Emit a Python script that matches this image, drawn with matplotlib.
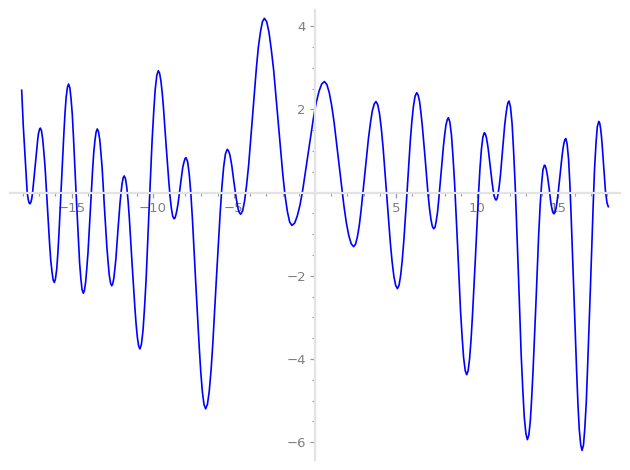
"""
Single-curve plot with axes crossing at the origin (Sage-like look).
"""

import matplotlib

matplotlib.use("Agg")
import matplotlib.pyplot as plt  # noqa: E402
from matplotlib.ticker import MultipleLocator, FuncFormatter  # noqa: E402

LINE = "#0000ff"
AXIS = "#e3e3e3"
TICK = "#9a9a9a"
LABEL = "#7f7f7f"

# curve samples, one row per swing (x then y)
x_vals = [
    -18.08, -17.98, -17.86, -17.74, -17.68, -17.62, -17.57,
    -17.52, -17.46, -17.41, -17.36, -17.25, -17.14, -17.09, -17.04, -16.98, -16.93,
    -16.86, -16.79, -16.72, -16.64, -16.50, -16.36, -16.29, -16.21, -16.14, -16.07,
    -16.00, -15.92, -15.85, -15.78, -15.63, -15.48, -15.41, -15.34, -15.26, -15.19,
    -15.11, -15.04, -14.96, -14.89, -14.74, -14.58, -14.51, -14.43, -14.36, -14.28,
    -14.21, -14.14, -14.07, -13.99, -13.85, -13.71, -13.64, -13.56, -13.49, -13.42,
    -13.35, -13.27, -13.20, -13.12, -12.98, -12.83, -12.75, -12.68, -12.60, -12.53,
    -12.47, -12.40, -12.34, -12.27, -12.15, -12.02, -11.95, -11.89, -11.82, -11.76,
    -11.68, -11.60, -11.52, -11.44, -11.28, -11.11, -11.03, -10.95, -10.87, -10.79,
    -10.70, -10.60, -10.51, -10.41, -10.23, -10.04, -9.94, -9.85, -9.75, -9.66,
    -9.58, -9.50, -9.42, -9.34, -9.18, -9.01, -8.93, -8.85, -8.77, -8.69,
    -8.63, -8.57, -8.51, -8.44, -8.32, -8.20, -8.14, -8.07, -8.01, -7.95,
    -7.85, -7.75, -7.65, -7.55, -7.35, -7.14, -7.04, -6.94, -6.84, -6.74,
    -6.63, -6.52, -6.41, -6.30, -6.08, -5.85, -5.74, -5.63, -5.52, -5.41,
    -5.34, -5.27, -5.20, -5.13, -5.00, -4.86, -4.79, -4.72, -4.65, -4.58,
    -4.46, -4.34, -4.22, -4.09, -3.85, -3.61, -3.49, -3.36, -3.24, -3.12,
    -2.98, -2.84, -2.70, -2.55, -2.27, -1.99, -1.85, -1.70, -1.56, -1.42,
    -1.25, -1.09, -0.92, -0.75, -0.42, -0.09, 0.08, 0.25, 0.41, 0.58,
    0.73, 0.88, 1.03, 1.18, 1.48, 1.78, 1.93, 2.08, 2.23, 2.38,
    2.50, 2.61, 2.73, 2.84, 3.07, 3.30, 3.42, 3.53, 3.65, 3.76,
    3.87, 3.98, 4.09, 4.20, 4.42, 4.64, 4.75, 4.86, 4.97, 5.08,
    5.18, 5.28, 5.38, 5.48, 5.68, 5.87, 5.97, 6.07, 6.17, 6.27,
    6.36, 6.45, 6.53, 6.62, 6.80, 6.97, 7.06, 7.15, 7.23, 7.32,
    7.40, 7.47, 7.55, 7.62, 7.77, 7.92, 8.00, 8.07, 8.15, 8.22,
    8.31, 8.41, 8.50, 8.60, 8.79, 8.97, 9.07, 9.16, 9.26, 9.35,
    9.44, 9.53, 9.62, 9.71, 9.90, 10.08, 10.17, 10.26, 10.35, 10.44,
    10.50, 10.56, 10.62, 10.68, 10.80, 10.92, 10.98, 11.04, 11.10, 11.16,
    11.23, 11.29, 11.36, 11.43, 11.56, 11.69, 11.76, 11.83, 11.89, 11.96,
    12.05, 12.15, 12.24, 12.34, 12.53, 12.71, 12.81, 12.90, 13.00, 13.09,
    13.18, 13.27, 13.35, 13.44, 13.62, 13.79, 13.88, 13.97, 14.05, 14.14,
    14.19, 14.24, 14.29, 14.34, 14.44, 14.53, 14.58, 14.63, 14.68, 14.73,
    14.79, 14.85, 14.91, 14.97, 15.10, 15.22, 15.28, 15.34, 15.40, 15.46,
    15.54, 15.63, 15.71, 15.79, 15.96, 16.13, 16.21, 16.29, 16.38, 16.46,
    16.55, 16.63, 16.72, 16.80, 16.98, 17.15, 17.23, 17.32, 17.40, 17.49,
    17.55, 17.60, 17.65, 17.70, 17.80, 17.90, 18.00, 18.08,
]
y_vals = [
    2.46, 1.59, 0.79, 0.00, -0.16, -0.25, -0.27,
    -0.24, -0.15, 0.00, 0.19, 0.64, 1.10, 1.28, 1.43, 1.52, 1.55,
    1.49, 1.30, 1.01, 0.62, -0.31, -1.23, -1.62, -1.91, -2.10, -2.16,
    -2.08, -1.84, -1.46, -0.97, 0.23, 1.42, 1.91, 2.29, 2.53, 2.61,
    2.52, 2.27, 1.88, 1.35, 0.10, -1.16, -1.69, -2.08, -2.33, -2.42,
    -2.35, -2.16, -1.84, -1.43, -0.45, 0.54, 0.95, 1.27, 1.46, 1.53,
    1.47, 1.28, 0.98, 0.59, -0.36, -1.30, -1.69, -1.99, -2.18, -2.24,
    -2.20, -2.06, -1.85, -1.58, -0.92, -0.26, 0.02, 0.22, 0.36, 0.40,
    0.33, 0.12, -0.21, -0.64, -1.68, -2.72, -3.15, -3.48, -3.69, -3.76,
    -3.65, -3.31, -2.78, -2.09, -0.42, 1.26, 1.95, 2.48, 2.82, 2.93,
    2.87, 2.69, 2.41, 2.04, 1.15, 0.26, -0.11, -0.39, -0.57, -0.63,
    -0.61, -0.53, -0.42, -0.26, 0.11, 0.47, 0.63, 0.74, 0.82, 0.84,
    0.74, 0.44, -0.04, -0.67, -2.18, -3.69, -4.32, -4.80, -5.10, -5.20,
    -5.09, -4.78, -4.29, -3.64, -2.08, -0.52, 0.13, 0.62, 0.93, 1.04,
    1.01, 0.94, 0.81, 0.65, 0.26, -0.13, -0.29, -0.42, -0.49, -0.52,
    -0.44, -0.20, 0.17, 0.66, 1.84, 3.01, 3.50, 3.87, 4.11, 4.19,
    4.11, 3.86, 3.46, 2.95, 1.70, 0.46, -0.06, -0.46, -0.71, -0.79,
    -0.73, -0.56, -0.29, 0.08, 0.94, 1.81, 2.17, 2.44, 2.61, 2.67,
    2.60, 2.40, 2.09, 1.68, 0.69, -0.31, -0.72, -1.03, -1.23, -1.30,
    -1.24, -1.07, -0.79, -0.43, 0.45, 1.32, 1.68, 1.96, 2.13, 2.19,
    2.11, 1.89, 1.53, 1.07, -0.06, -1.19, -1.65, -2.01, -2.23, -2.31,
    -2.23, -1.99, -1.62, -1.13, 0.05, 1.22, 1.71, 2.08, 2.32, 2.40,
    2.34, 2.18, 1.92, 1.58, 0.77, -0.05, -0.39, -0.65, -0.81, -0.87,
    -0.83, -0.69, -0.48, -0.20, 0.47, 1.13, 1.41, 1.62, 1.75, 1.80,
    1.70, 1.39, 0.90, 0.26, -1.29, -2.84, -3.48, -3.97, -4.28, -4.38,
    -4.28, -3.99, -3.53, -2.93, -1.47, -0.02, 0.59, 1.05, 1.34, 1.44,
    1.41, 1.33, 1.20, 1.04, 0.63, 0.23, 0.06, -0.07, -0.15, -0.18,
    -0.14, -0.02, 0.17, 0.42, 1.01, 1.61, 1.85, 2.04, 2.16, 2.20,
    2.06, 1.65, 1.01, 0.17, -1.87, -3.91, -4.75, -5.40, -5.80, -5.94,
    -5.83, -5.50, -4.98, -4.29, -2.64, -0.99, -0.30, 0.22, 0.55, 0.66,
    0.64, 0.58, 0.49, 0.37, 0.08, -0.22, -0.34, -0.43, -0.49, -0.51,
    -0.48, -0.39, -0.25, -0.06, 0.40, 0.85, 1.04, 1.18, 1.27, 1.30,
    1.17, 0.80, 0.21, -0.58, -2.45, -4.33, -5.11, -5.70, -6.07, -6.20,
    -6.07, -5.67, -5.05, -4.22, -2.25, -0.27, 0.56, 1.18, 1.58, 1.71,
    1.67, 1.55, 1.38, 1.15, 0.60, 0.05, -0.25, -0.34,
]

x_major = [-15, -10, -5, 5, 10, 15]
y_major = [-6, -4, -2, 2, 4]

plt.rcParams.update({
    "font.family": "DejaVu Sans",
    "font.size": 9.5,
})


def _label(v, _pos):
    return f"{v:g}".replace("-", "\u2212")


fig = plt.figure(figsize=(6.3, 4.7), dpi=100)
ax = fig.add_axes((10 / 630, 10 / 470, 610 / 630, 450 / 470))
ax.plot(x_vals, y_vals, color=LINE, linewidth=1.2)

ax.set_xlim(-18.8, 18.8)
ax.set_ylim(-6.43, 4.39)

for s in ("top", "right"):
    ax.spines[s].set_visible(False)
for s in ("left", "bottom"):
    ax.spines[s].set_position("zero")
    ax.spines[s].set_color(AXIS)
    ax.spines[s].set_linewidth(1.6)

ax.set_xticks(x_major)
ax.set_yticks(y_major)
ax.xaxis.set_minor_locator(MultipleLocator(1))
ax.yaxis.set_minor_locator(MultipleLocator(0.5))
ax.xaxis.set_major_formatter(FuncFormatter(_label))
ax.yaxis.set_major_formatter(FuncFormatter(_label))
ax.tick_params(which="major", direction="out", length=3.5, width=0.9,
               color=TICK, labelcolor=LABEL, labelsize=9.5, pad=3)
ax.tick_params(which="minor", direction="out", length=2, width=0.8, color=TICK)

fig.savefig("out.png", dpi=100, facecolor="white")
